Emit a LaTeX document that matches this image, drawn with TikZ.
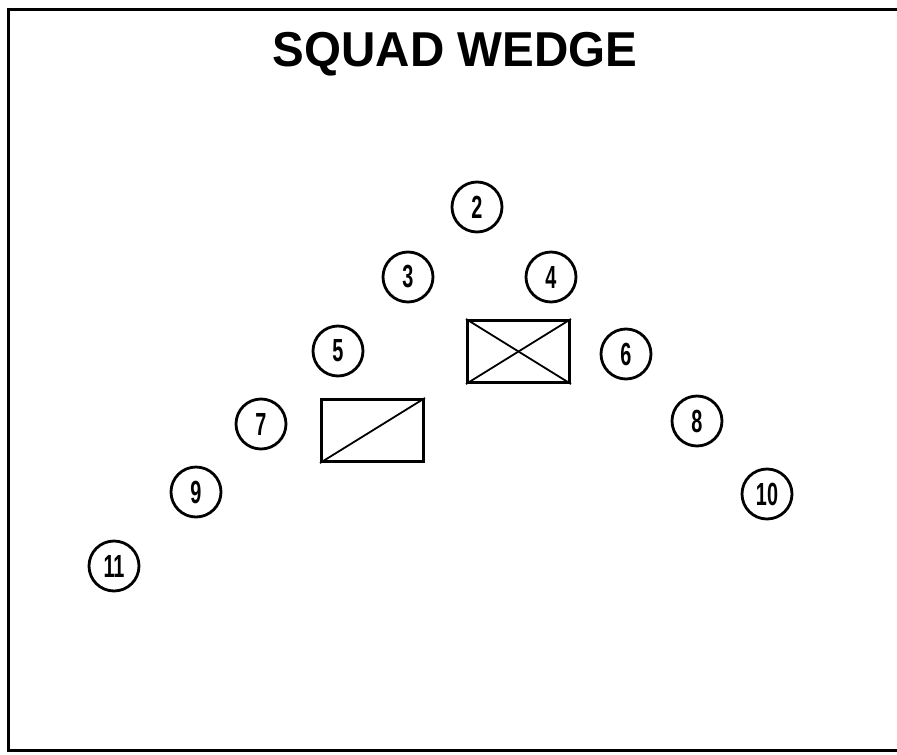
\documentclass[tikz,border=0pt]{standalone}
\usepackage{fontspec}
\setmainfont{Liberation Sans}
\begin{document}
\begin{tikzpicture}[x=1pt,y=-1pt,
  man/.style={circle,draw,line width=2.8pt,minimum size=50pt,inner sep=0pt,
    font=\fontsize{32}{32}\selectfont\bfseries},
  team/.style={draw,line width=3pt,minimum width=102pt,minimum height=62pt,inner sep=0pt},
  diag/.style={line width=1.8pt},
  frame/.style={line width=3pt}]
\useasboundingbox (0,0) rectangle (897,755);
\coordinate (ftr) at (897,9);
\coordinate (ftl) at (8,9);
\coordinate (fbl) at (8,750);
\coordinate (fbr) at (897,750);
\draw[frame] (ftr) -- (ftl) -- (fbl) -- (fbr);
\node[font=\fontsize{49}{49}\selectfont\bfseries] (title) at (455,54) {\scalebox{0.97}[1]{SQUAD WEDGE}};
\node[man] (c2) at (477,207) {\scalebox{0.62}[1]{2}};
\node[man] (c3) at (408,277) {\scalebox{0.62}[1]{3}};
\node[man] (c4) at (551,277) {\scalebox{0.62}[1]{4}};
\node[man] (c5) at (338,351) {\scalebox{0.62}[1]{5}};
\node[man] (c6) at (626,354) {\scalebox{0.62}[1]{6}};
\node[man] (c7) at (261,424) {\scalebox{0.62}[1]{7}};
\node[man] (c8) at (697,421) {\scalebox{0.62}[1]{8}};
\node[man] (c9) at (196,492) {\scalebox{0.62}[1]{9}};
\node[man] (c10) at (767,494) {\scalebox{0.62}[1]{10}};
\node[man] (c11) at (114,566) {\scalebox{0.62}[1]{11}};
\node[team] (sl) at (518.5,351.5) {};
\draw[diag] (sl.north west) -- (sl.south east);
\draw[diag] (sl.south west) -- (sl.north east);
\node[team] (tl) at (372.5,430.5) {};
\draw[diag] (tl.south west) -- (tl.north east);
\end{tikzpicture}
\end{document}
